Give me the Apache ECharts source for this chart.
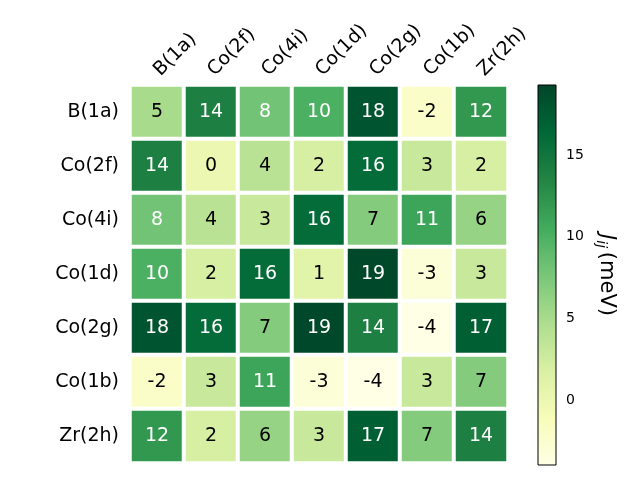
<!DOCTYPE html>
<html><head><meta charset="utf-8">
<script src="https://cdn.jsdelivr.net/npm/echarts@6/dist/echarts.min.js"></script>
<style>html,body{margin:0;padding:0;background:#fff}#c{width:640px;height:480px}</style>
</head><body><div id="c"></div>
<script>
const xLabels = ['B(1a)','Co(2f)','Co(4i)','Co(1d)','Co(2g)','Co(1b)','Zr(2h)'];
const yLabels = ['B(1a)','Co(2f)','Co(4i)','Co(1d)','Co(2g)','Co(1b)','Zr(2h)'];
const matrix = [
  [5,14,8,10,18,-2,12],
  [14,0,4,2,16,3,2],
  [8,4,3,16,7,11,6],
  [10,2,16,1,19,-3,3],
  [18,16,7,19,14,-4,17],
  [-2,3,11,-3,-4,3,7],
  [12,2,6,3,17,7,14]
];
const vMin = -3.94, vMax = 19.27;
const cbTicks = [0,5,10,15];
const cmap = ['#ffffe5','#f7fcb9','#d9f0a3','#addd8e','#78c679','#41ab5d','#238443','#006837','#004529'];

const data = [];
matrix.forEach((row,i)=>row.forEach((v,j)=>data.push([j,i,v])));
const thr = (vMin+vMax)/2;
const font = 'DejaVu Sans';
const chart = echarts.init(document.getElementById('c'));
chart.setOption({
  animation:false,
  textStyle:{fontFamily:font},
  grid:[
    {left:130,top:85,width:378,height:378},
    {left:538,top:85,width:18,height:380}
  ],
  xAxis:[
    {type:'category',data:xLabels,position:'top',gridIndex:0,
     axisLine:{show:false},
     axisTick:{alignWithLabel:true,length:5,lineStyle:{color:'#000'}},
     axisLabel:{rotate:-45,fontSize:19,color:'#000',margin:12,padding:[0,0,12,0],fontFamily:font},
     splitLine:{show:false}},
    {type:'value',gridIndex:1,show:false,min:0,max:1}
  ],
  yAxis:[
    {type:'category',data:yLabels,inverse:true,gridIndex:0,
     axisLine:{show:false},
     axisTick:{alignWithLabel:true,length:5,lineStyle:{color:'#000'}},
     axisLabel:{fontSize:19,color:'#000',margin:11,fontFamily:font},
     splitLine:{show:false}},
    {type:'value',gridIndex:1,min:vMin,max:vMax,position:'right',
     axisLine:{show:false},
     axisTick:{show:true,length:4,lineStyle:{color:'#000'},customValues:cbTicks},
     axisLabel:{fontSize:14,color:'#000',margin:10,fontFamily:font,customValues:cbTicks},
     splitLine:{show:false},
     name:'{j|J}{s|ij} {t|(meV)}',nameLocation:'middle',nameRotate:-90,nameGap:38,
     nameTextStyle:{rich:{
       j:{fontSize:21,fontStyle:'italic',fontFamily:font,color:'#000'},
       s:{fontSize:14,fontStyle:'italic',fontFamily:font,color:'#000',verticalAlign:'bottom',padding:[10,0,0,0]},
       t:{fontSize:21,fontFamily:font,color:'#000'}
     }}}
  ],
  visualMap:{show:false,min:vMin,max:vMax,seriesIndex:0,inRange:{color:cmap}},
  series:[{
    type:'heatmap',xAxisIndex:0,yAxisIndex:0,
    data:data.map(d=>({value:d,label:{color:d[2]>thr?'#fff':'#000'}})),
    itemStyle:{borderColor:'#fff',borderWidth:4},
    label:{show:true,fontSize:19,fontFamily:font,
      formatter:p=>String(p.value[2])},
    emphasis:{disabled:true}
  }],
  graphic:[{
    type:'rect',shape:{x:538,y:85,width:18,height:380},
    style:{fill:new echarts.graphic.LinearGradient(0,1,0,0,cmap.map((c,i)=>({offset:i/(cmap.length-1),color:c}))),
      stroke:'#000',lineWidth:1},z:10
  }]
});
</script></body></html>
